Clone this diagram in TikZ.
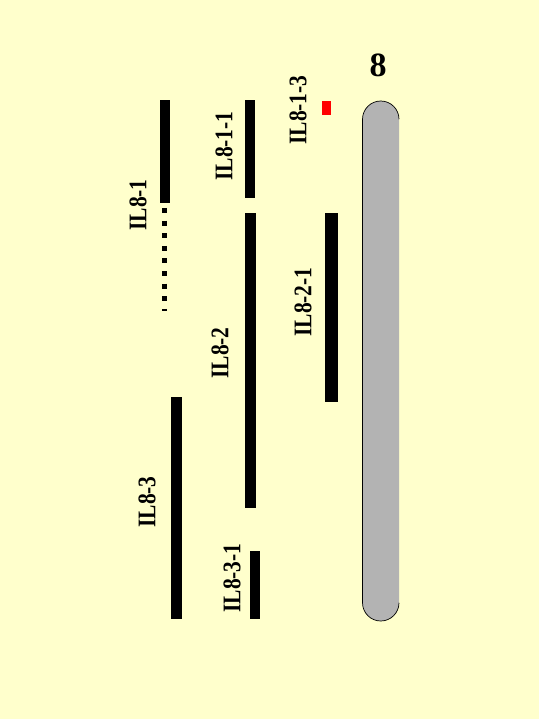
\documentclass[tikz,border=0pt]{standalone}
\usepackage{fontspec}
\usepackage{graphicx}
\setmainfont{Liberation Serif}
\definecolor{bgyellow}{HTML}{FFFFCC}
\definecolor{chromgray}{HTML}{B3B3B3}
\definecolor{segred}{HTML}{FF0000}
\newcommand{\tallbf}[1]{\scalebox{1}[1.18]{#1}}
\begin{document}
\begin{tikzpicture}[x=1pt,y=-1pt,
  lbl/.style={rotate=90,inner sep=0pt,font=\bfseries\fontsize{21.5}{21.5}\selectfont},
  seg/.style={fill=black,draw=none},
  chromlabel/.style={inner sep=0pt,font=\bfseries\fontsize{34}{34}\selectfont}]
\useasboundingbox (0,0) rectangle (539,719);
\fill[bgyellow] (0,0) rectangle (539,719);
% chromosome
\fill[chromgray] (399,119.25) arc[start angle=0,end angle=-180,radius=18.25]
  -- (362.5,602.75) arc[start angle=180,end angle=0,radius=18.25] -- cycle;
\draw[black,line width=0.7pt] (399,119.25) arc[start angle=0,end angle=-180,radius=18.25]
  -- (362.5,602.75) arc[start angle=180,end angle=0,radius=18.25];
\node[chromlabel] (chr) at (378,65) {8};
% segments
\fill[seg] (159.5,100) rectangle (169.5,203);
\draw[line width=5.5pt,dash pattern=on 5pt off 7.6pt] (164.5,208) -- (164.5,311);
\fill[seg] (244.5,100) rectangle (255,198);
\fill[segred] (322,101) rectangle (331,115);
\fill[seg] (245,213) rectangle (256,508);
\fill[seg] (325,213) rectangle (337.5,402);
\fill[seg] (171,397) rectangle (182,619);
\fill[seg] (250,551) rectangle (260,619);
% labels
\node[lbl] (l1) at (138,205) {\tallbf{IL8-1}};
\node[lbl] (l11) at (224,146) {\tallbf{IL8-1-1}};
\node[lbl] (l13) at (298,110) {\tallbf{IL8-1-3}};
\node[lbl] (l2) at (220,353) {\tallbf{IL8-2}};
\node[lbl] (l21) at (303,302) {\tallbf{IL8-2-1}};
\node[lbl] (l3) at (147,502) {\tallbf{IL8-3}};
\node[lbl] (l31) at (232,578) {\tallbf{IL8-3-1}};
\end{tikzpicture}
\end{document}
